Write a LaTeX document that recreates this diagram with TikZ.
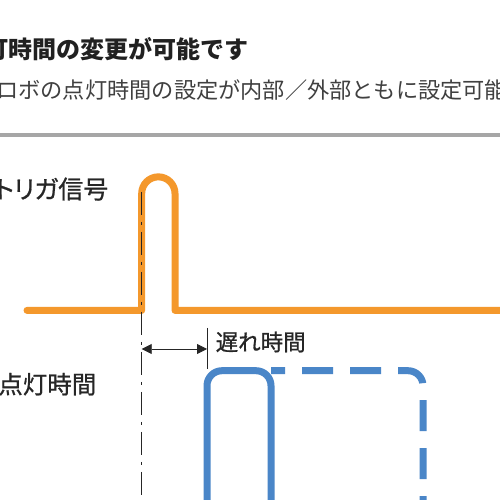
\documentclass[tikz,border=0pt]{standalone}
\usepackage{fontspec}
\newfontfamily\jp{Noto Sans CJK JP}
\newfontfamily\jpm[FakeBold=0.8]{Noto Sans CJK JP}
\newfontfamily\jpp[RawFeature=+palt,FakeBold=0.8]{Noto Sans CJK JP}
\usetikzlibrary{arrows.meta}
\definecolor{sigorange}{HTML}{F4982C}
\definecolor{sigblue}{HTML}{4A86C8}
\definecolor{rulegray}{HTML}{A6A6A6}
\definecolor{txt}{HTML}{262626}
\definecolor{subtxt}{HTML}{404040}
\tikzset{
  lbl/.style={inner sep=0pt, text=txt, font=\jp},
  sig/.style={line width=7pt, line join=round},
  dashdot/.style={line width=0.9pt, draw=txt, dash pattern=on 23pt off 7pt on 3pt off 7pt},
  dimline/.style={line width=0.8pt, draw=txt},
}
\begin{document}
\begin{tikzpicture}[x=1pt,y=1pt]
\useasboundingbox (0,0) rectangle (500,500);
\clip (0,0) rectangle (500,500);
\fill[white] (0,0) rectangle (500,500);
% title and subtitle
\node[lbl, anchor=base west, font=\jp\bfseries\fontsize{24}{28}\selectfont, text=black!87] (title) at (-15.7,441.7) {灯時間の変更が可能です};
\node[lbl, anchor=base west, font=\jp\fontsize{22.2}{26}\selectfont, text=subtxt] (sub) at (-3.8,401.5) {ロボの点灯時間の設定が内部／外部ともに設定可能};
\draw[rulegray, line width=4pt] (-5,365.3) -- (505,365.3);
% labels
\node[lbl, anchor=base east, font=\jpp\fontsize{25}{30}\selectfont] (trig) at (108.5,301.5) {トリガ信号};
\node[lbl, anchor=base east, font=\jpm\fontsize{24.5}{29}\selectfont] (lamp) at (96.5,106.5) {点灯時間};
\node[lbl, anchor=base west, font=\jpm\fontsize{22.5}{27}\selectfont] (delay) at (215.5,149.5) {遅れ時間};
% orange trigger signal
\draw[sig, sigorange, line cap=round] (27,189.6) -- (141.7,189.6) -- (141.7,306.5)
  arc[start angle=180, end angle=0, radius=16.65pt] -- (175,189.6) -- (510,189.6);
% blue lamp signal
\draw[sig, sigblue, rounded corners=15pt] (207,-10) -- (207,129.3) -- (271,129.3) -- (271,-10);
\draw[sig, sigblue, rounded corners=15pt, dash pattern=on 31pt off 17pt, dash phase=17pt]
  (271,129.3) -- (423,129.3) -- (423,-10);
% reference lines
\coordinate (dtop) at (141.7,308);
\coordinate (dbot) at (141.7,-5);
\draw[dashdot] (dtop) -- (dbot);
\coordinate (ttop) at (207,172);
\coordinate (tbot) at (207,131);
\draw[dimline] (ttop) -- (tbot);
\coordinate (aL) at (141.7,151);
\coordinate (aR) at (207,151);
\draw[dimline, {Triangle[length=10pt,width=10pt]}-{Triangle[length=10pt,width=10pt]}] (aL) -- (aR);
\end{tikzpicture}
\end{document}
